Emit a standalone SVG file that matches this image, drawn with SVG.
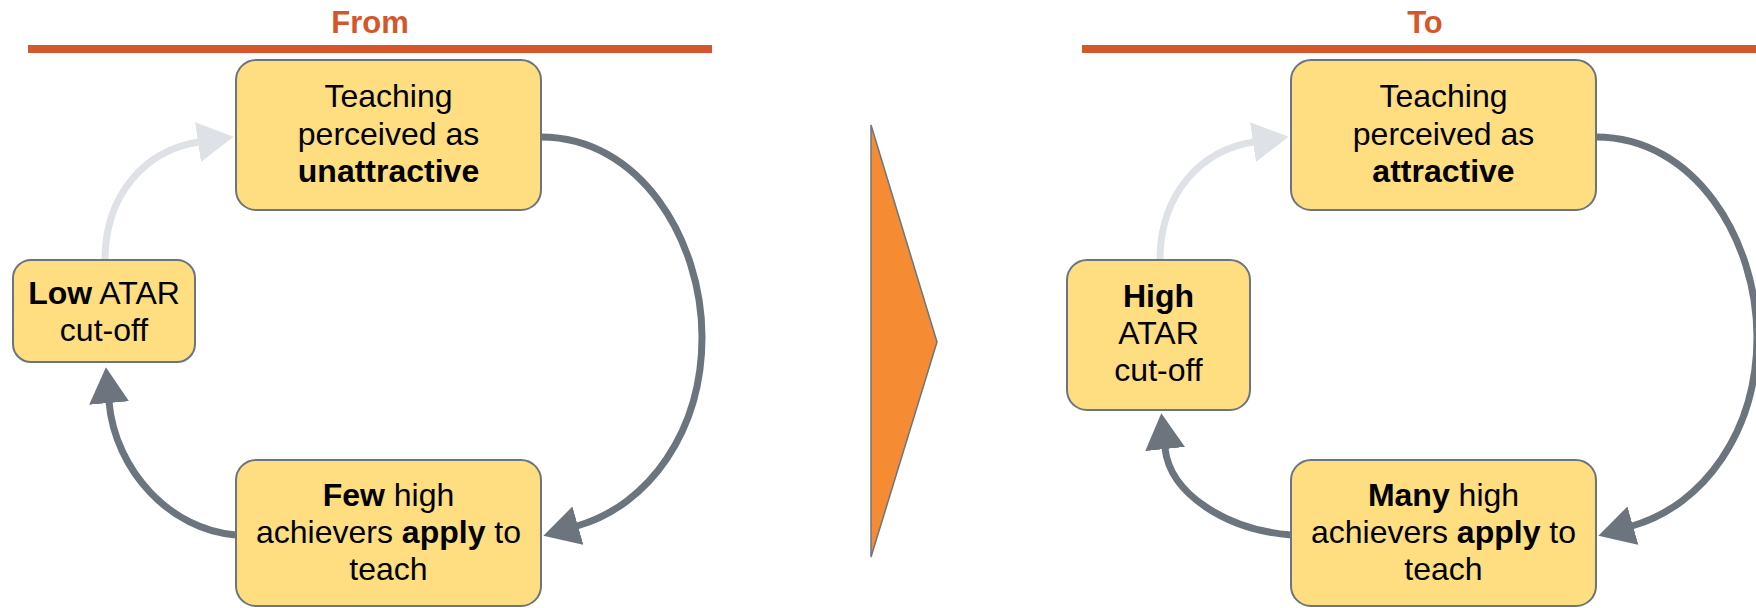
<svg xmlns="http://www.w3.org/2000/svg" width="1756" height="608" viewBox="0 0 1756 608">
  <style>
    .title { font-family: "Liberation Sans", Arial, sans-serif; font-size: 31px; font-weight: bold; fill: #D4572B; text-anchor: middle; }
    .rule { fill: #D4572B; }
    .box { fill: #FEDE80; stroke: #6C757D; stroke-width: 2; }
    .lbl { font-family: "Liberation Sans", Arial, sans-serif; font-size: 32px; fill: #000000; text-anchor: middle; }
    .b { font-weight: bold; }
    .dark { fill: none; stroke: #6C757D; stroke-width: 7; marker-end: url(#ahDark); }
    .light { fill: none; stroke: #DEE2E6; stroke-width: 7; marker-end: url(#ahLight); }
  </style>
  <defs>
    <marker id="ahDark" viewBox="0 0 36 40" refX="1" refY="20" markerWidth="36" markerHeight="40" markerUnits="userSpaceOnUse" orient="auto">
      <path d="M0,0 L36,20 L0,40 z" fill="#6C757D"/>
    </marker>
    <marker id="ahLight" viewBox="0 0 36 40" refX="1" refY="20" markerWidth="36" markerHeight="40" markerUnits="userSpaceOnUse" orient="auto">
      <path d="M0,0 L36,20 L0,40 z" fill="#DEE2E6"/>
    </marker>
  </defs>

  <g id="headers">
    <text class="title" x="370" y="33">From</text>
    <rect class="rule" x="28" y="45" width="684" height="8"/>
    <text class="title" x="1425" y="33">To</text>
    <rect class="rule" x="1082" y="45" width="674" height="8"/>
  </g>

  <g id="connectors">
    <path class="light" d="M105,260 C105,195 145,150 199,142"/>
    <path class="dark" d="M541,137 C640,137 702,240 702,337 C702,430 650,505 577,526"/>
    <path class="dark" d="M236,535 C170,530 115,470 109,402"/>
    <path class="light" d="M1160,260 C1160,195 1200,150 1254,142"/>
    <path class="dark" d="M1596,137 C1695,137 1757,240 1757,337 C1757,430 1705,505 1632,526"/>
    <path class="dark" d="M1291,535 C1228,530 1170,495 1165,448"/>
  </g>

  <g id="from-top">
    <rect class="box" x="236" y="60" width="305" height="150" rx="20"/>
    <text class="lbl" x="388.5" y="107">Teaching</text>
    <text class="lbl" x="388.5" y="145">perceived as</text>
    <text class="lbl b" x="388.5" y="182">unattractive</text>
  </g>
  <g id="from-left">
    <rect class="box" x="13" y="260" width="182" height="102" rx="18"/>
    <text class="lbl" x="104" y="304"><tspan class="b">Low</tspan> ATAR</text>
    <text class="lbl" x="104" y="341">cut-off</text>
  </g>
  <g id="from-bottom">
    <rect class="box" x="236" y="460" width="305" height="146" rx="20"/>
    <text class="lbl" x="388.5" y="506"><tspan class="b">Few</tspan> high</text>
    <text class="lbl" x="388.5" y="543">achievers <tspan class="b">apply</tspan> to</text>
    <text class="lbl" x="388.5" y="580">teach</text>
  </g>

  <g id="arrow-divider">
    <polygon points="871,125 937,342 871,557" fill="#F58C33" stroke="#6C757D" stroke-width="1.5"/>
  </g>

  <g id="to-top">
    <rect class="box" x="1291" y="60" width="305" height="150" rx="20"/>
    <text class="lbl" x="1443.5" y="107">Teaching</text>
    <text class="lbl" x="1443.5" y="145">perceived as</text>
    <text class="lbl b" x="1443.5" y="182">attractive</text>
  </g>
  <g id="to-left">
    <rect class="box" x="1067" y="260" width="183" height="150" rx="20"/>
    <text class="lbl b" x="1158.5" y="307">High</text>
    <text class="lbl" x="1158.5" y="344">ATAR</text>
    <text class="lbl" x="1158.5" y="381">cut-off</text>
  </g>
  <g id="to-bottom">
    <rect class="box" x="1291" y="460" width="305" height="146" rx="20"/>
    <text class="lbl" x="1443.5" y="506"><tspan class="b">Many</tspan> high</text>
    <text class="lbl" x="1443.5" y="543">achievers <tspan class="b">apply</tspan> to</text>
    <text class="lbl" x="1443.5" y="580">teach</text>
  </g>
</svg>
